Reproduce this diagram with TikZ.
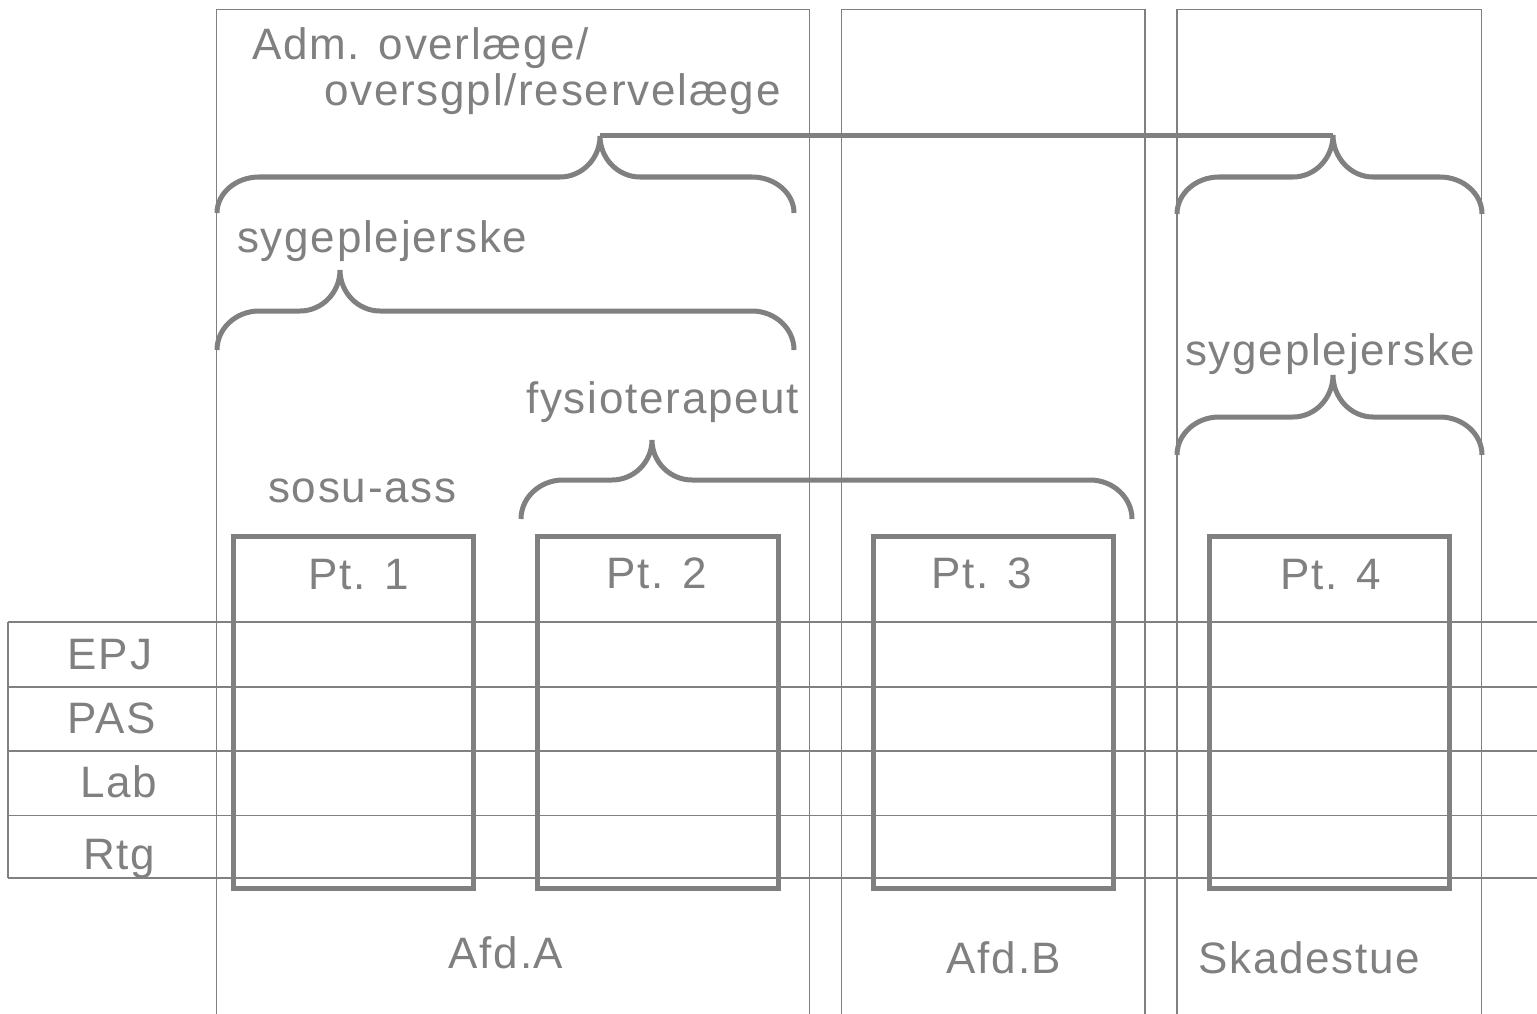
\documentclass[tikz,border=0pt]{standalone}
\usepackage{fontspec}
\setmainfont{Liberation Sans}[LetterSpace=4]
\definecolor{grayc}{HTML}{808080}
\newcommand{\mybrace}[6]{% x1, xt, x2, yb, yh, yt
  \draw[bracepen] (#1,#4) .. controls (#1,{#4-0.55*(#4-#5)}) and ({#1+19},#5) .. ({#1+42},#5)
    -- ({#2-40},#5) .. controls ({#2-18},#5) and (#2,{#6+0.55*(#5-#6)}) .. (#2,#6)
    .. controls (#2,{#6+0.55*(#5-#6)}) and ({#2+18},#5) .. ({#2+40},#5)
    -- ({#3-42},#5) .. controls ({#3-19},#5) and (#3,{#4-0.55*(#4-#5)}) .. (#3,#4);}
\begin{document}
\begin{tikzpicture}[x=1pt,y=-1pt,
  colline/.style={draw=grayc,line width=1.5pt},
  bracepen/.style={draw=grayc,line width=5pt},
  ptbox/.style={draw=grayc,line width=5pt,rectangle,inner sep=0pt},
  lbl/.style={text=grayc,font=\fontsize{44}{52}\selectfont,inner sep=0pt,anchor=base},
  lblw/.style={lbl,anchor=base west}]
\useasboundingbox[fill=white] (0,0) rectangle (1537,1014);
% columns (open at the bottom)
\draw[colline] (216.5,1014) -- (216.5,9.5) -- (809.5,9.5) -- (809.5,1014);
\draw[colline] (841.5,1014) -- (841.5,9.5) -- (1145,9.5) -- (1145,1014);
\draw[colline] (1177,1014) -- (1177,9.5) -- (1481.5,9.5) -- (1481.5,1014);
% rows
\draw[colline] (8,622) -- (1537,622);
\draw[colline] (8,687) -- (1537,687);
\draw[colline] (8,751) -- (1537,751);
\draw[colline] (8,815.5) -- (1537,815.5);
\draw[colline] (8,878) -- (1537,878);
\draw[colline] (8,622) -- (8,878);
% patient boxes
\node[ptbox,minimum width=239.5pt,minimum height=351.5pt] (p1) at (353.25,712.25) {};
\node[ptbox,minimum width=240.5pt,minimum height=351.5pt] (p2) at (657.75,712.25) {};
\node[ptbox,minimum width=240pt,minimum height=351.5pt] (p3) at (993.5,712.25) {};
\node[ptbox,minimum width=240pt,minimum height=351.5pt] (p4) at (1329.5,712.25) {};
\node[lbl] (t1) at (358.5,589) {Pt. 1};
\node[lbl] (t2) at (657,588) {Pt. 2};
\node[lbl] (t3) at (982,588) {Pt. 3};
\node[lbl] (t4) at (1331,589) {Pt. 4};
% row labels
\node[lbl] (epj) at (110,669) {EPJ};
\node[lbl] (pas) at (112,733) {PAS};
\node[lbl] (lab) at (119,797) {Lab};
\node[lbl] (rtg) at (119,869) {Rtg};
% bottom labels
\node[lbl] (afda) at (506,968) {Afd.A};
\node[lbl] (afdb) at (1004,973) {Afd.B};
\node[lblw] (skad) at (1198,973) {Skadestue};
% staff labels
\node[lblw] (adm1) at (252,60) {Adm. overlæge/};
\node[lblw] (adm2) at (324,106) {oversgpl/reservelæge};
\node[lblw] (syg1) at (237,252) {sygeplejerske};
\node[lblw] (fys) at (526,413) {fysioterapeut};
\node[lblw] (sosu) at (268,502) {sosu-ass};
\node[lblw] (syg2) at (1185,365) {sygeplejerske};
% braces
\mybrace{217}{600}{794}{213}{177}{136}
\mybrace{217}{340}{794}{350}{311}{270}
\mybrace{521}{652}{1132}{519}{480}{440}
\mybrace{1177}{1333}{1482}{214}{177}{135}
\mybrace{1177}{1333}{1482}{455}{417}{375}
\coordinate (tipA) at (600,136);
\coordinate (tipS) at (1333,136);
\draw[bracepen] (tipA) -- (tipS);
\end{tikzpicture}
\end{document}
